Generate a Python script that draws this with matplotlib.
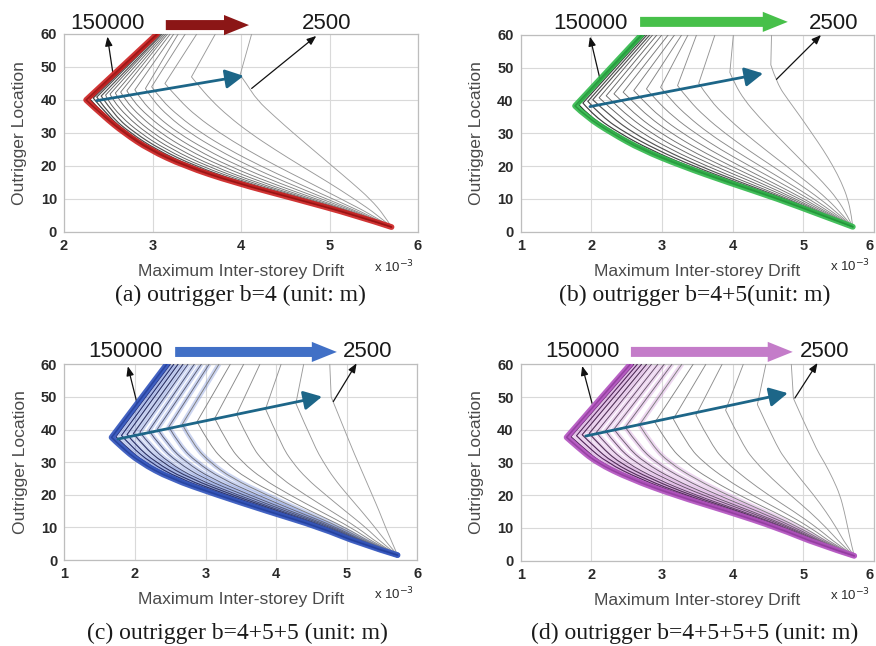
import matplotlib
matplotlib.use('Agg')
import matplotlib.pyplot as plt
from matplotlib.path import Path
from matplotlib.patches import PathPatch

# ---------------- data ----------------
LEVELS = [5, 10, 15, 20, 25, 30, 35, 40, 45]   # outrigger location levels for the lower branch
TOP_Y = 60

# (a) outrigger b=4  -- curve 0 = stiffness 150000 ... last = 2500
A_BOTTOM = (5.70, 1.5)
A_TOP_X = [3.05, 3.06, 3.07, 3.08, 3.10, 3.11, 3.13, 3.15, 3.17, 3.20, 3.24, 3.29, 3.37, 3.50, 3.71, 4.12]
A_KINK_X = [2.25, 2.29, 2.33, 2.37, 2.42, 2.47, 2.52, 2.58, 2.64, 2.71, 2.80, 2.92, 2.99, 3.14, 3.44, 3.99]
A_KINK_Y = [40.0, 40.3, 40.6, 40.9, 41.2, 41.5, 41.8, 42.1, 42.4, 42.8, 43.1, 43.5, 44.0, 45.0, 47.0, 47.6]
A_LOWER = [
    [5.30, 4.62, 3.92, 3.36, 2.96, 2.68, 2.45],
    [5.30, 4.63, 3.93, 3.38, 2.98, 2.70, 2.47],
    [5.31, 4.64, 3.94, 3.40, 3.00, 2.72, 2.50],
    [5.32, 4.66, 3.97, 3.43, 3.04, 2.75, 2.53],
    [5.33, 4.68, 4.01, 3.48, 3.09, 2.80, 2.58],
    [5.34, 4.70, 4.06, 3.54, 3.15, 2.86, 2.64, 2.49],
    [5.35, 4.73, 4.11, 3.61, 3.22, 2.93, 2.71, 2.55],
    [5.36, 4.76, 4.17, 3.68, 3.30, 3.00, 2.78, 2.62],
    [5.37, 4.80, 4.24, 3.77, 3.39, 3.09, 2.86, 2.69],
    [5.38, 4.85, 4.32, 3.86, 3.49, 3.19, 2.95, 2.77],
    [5.40, 4.91, 4.41, 3.97, 3.60, 3.29, 3.05, 2.87],
    [5.42, 4.97, 4.51, 4.09, 3.73, 3.42, 3.18, 3.00],
    [5.45, 5.04, 4.62, 4.22, 3.86, 3.55, 3.30, 3.10],
    [5.49, 5.13, 4.77, 4.40, 4.06, 3.76, 3.50, 3.30],
    [5.55, 5.28, 4.99, 4.68, 4.38, 4.10, 3.86, 3.66, 3.50],
    [5.62, 5.46, 5.25, 5.03, 4.81, 4.59, 4.38, 4.18, 4.06],
]

# (b) outrigger b=4+5
B_BOTTOM = (5.70, 1.5)
B_TOP_X = [2.71, 2.73, 2.76, 2.79, 2.83, 2.87, 2.93, 3.00, 3.09, 3.18, 3.28, 3.37, 3.49, 3.75, 4.01, 4.55]
B_KINK_X = [1.77, 1.82, 1.88, 1.95, 2.02, 2.11, 2.21, 2.32, 2.45, 2.60, 2.78, 2.98, 3.22, 3.52, 3.96, 4.54]
B_KINK_Y = [38.3, 38.7, 39.2, 39.7, 40.2, 40.8, 41.4, 42.0, 42.5, 43.0, 43.5, 44.0, 44.5, 45.2, 48.5, 50.8]
B_LOWER = [
    [5.26, 4.64, 3.94, 3.28, 2.71, 2.29, 1.93],
    [5.27, 4.66, 3.97, 3.32, 2.76, 2.34, 1.98],
    [5.28, 4.68, 4.01, 3.37, 2.83, 2.40, 2.05],
    [5.29, 4.71, 4.06, 3.44, 2.92, 2.49, 2.15],
    [5.30, 4.75, 4.12, 3.53, 3.02, 2.60, 2.28],
    [5.31, 4.79, 4.20, 3.63, 3.13, 2.72, 2.40],
    [5.33, 4.84, 4.29, 3.74, 3.25, 2.85, 2.53, 2.28],
    [5.35, 4.89, 4.38, 3.85, 3.38, 2.98, 2.66, 2.42],
    [5.38, 4.95, 4.47, 3.97, 3.52, 3.13, 2.81, 2.57],
    [5.41, 5.01, 4.56, 4.10, 3.67, 3.29, 2.97, 2.73],
    [5.44, 5.08, 4.67, 4.24, 3.83, 3.47, 3.16, 2.92],
    [5.48, 5.15, 4.78, 4.39, 4.01, 3.66, 3.37, 3.13],
    [5.52, 5.24, 4.91, 4.56, 4.21, 3.89, 3.61, 3.38],
    [5.56, 5.34, 5.06, 4.76, 4.46, 4.17, 3.91, 3.68],
    [5.62, 5.48, 5.28, 5.05, 4.82, 4.59, 4.37, 4.17, 4.03],
    [5.68, 5.63, 5.54, 5.42, 5.28, 5.12, 4.96, 4.79, 4.63],
]

# (c) outrigger b=4+5+5
C_BOTTOM = (5.72, 1.5)
C_TOP_X = [2.45, 2.50, 2.55, 2.61, 2.68, 2.75, 2.84, 2.94, 3.05, 3.19, 3.35, 3.54, 3.77, 4.07, 4.39, 4.76]
C_KINK_X = [1.67, 1.73, 1.81, 1.89, 1.98, 2.07, 2.20, 2.32, 2.48, 2.67, 2.88, 3.13, 3.44, 3.85, 4.28, 4.78]
C_KINK_Y = [37.6, 37.8, 38.2, 38.5, 38.8, 39.2, 39.7, 40.2, 40.8, 41.6, 42.4, 43.4, 44.7, 46.3, 48.0, 50.0]
C_LOWER = [
    [5.19, 4.62, 3.87, 3.16, 2.50, 2.07, 1.79],
    [5.20, 4.64, 3.90, 3.20, 2.56, 2.13, 1.86],
    [5.21, 4.66, 3.94, 3.26, 2.62, 2.21, 1.94],
    [5.22, 4.69, 3.98, 3.31, 2.69, 2.29, 2.02],
    [5.24, 4.71, 4.03, 3.38, 2.78, 2.38, 2.12],
    [5.25, 4.74, 4.08, 3.45, 2.86, 2.47, 2.22],
    [5.27, 4.78, 4.14, 3.53, 2.97, 2.60, 2.35],
    [5.29, 4.82, 4.20, 3.62, 3.08, 2.72, 2.48],
    [5.31, 4.86, 4.28, 3.73, 3.22, 2.87, 2.64],
    [5.34, 4.92, 4.38, 3.86, 3.38, 3.06, 2.84],
    [5.37, 4.98, 4.49, 4.02, 3.58, 3.28, 3.07],
    [5.41, 5.06, 4.62, 4.19, 3.80, 3.52, 3.33],
    [5.45, 5.15, 4.78, 4.41, 4.07, 3.83, 3.65],
    [5.51, 5.27, 4.98, 4.70, 4.43, 4.23, 4.08],
    [5.58, 5.40, 5.21, 5.01, 4.82, 4.67, 4.54],
    [5.65, 5.55, 5.46, 5.36, 5.26, 5.16, 5.06],
]

# (d) outrigger b=4+5+5+5
D_BOTTOM = (5.72, 1.5)
D_TOP_X = [2.55, 2.60, 2.65, 2.71, 2.78, 2.85, 2.94, 3.03, 3.14, 3.28, 3.44, 3.62, 3.85, 4.15, 4.47, 4.83]
D_KINK_X = [1.65, 1.71, 1.79, 1.87, 1.97, 2.07, 2.20, 2.32, 2.48, 2.68, 2.90, 3.16, 3.48, 3.90, 4.35, 4.86]
D_KINK_Y = [37.7, 37.9, 38.2, 38.5, 38.9, 39.2, 39.7, 40.2, 40.8, 41.5, 42.3, 43.3, 44.5, 46.0, 47.7, 49.6]
D_LOWER = [
    [5.21, 4.64, 3.94, 3.18, 2.55, 2.07, 1.79],
    [5.22, 4.66, 3.97, 3.23, 2.61, 2.13, 1.86],
    [5.23, 4.68, 4.01, 3.29, 2.68, 2.22, 1.94],
    [5.24, 4.71, 4.05, 3.34, 2.75, 2.30, 2.03],
    [5.26, 4.74, 4.10, 3.41, 2.84, 2.39, 2.13],
    [5.27, 4.77, 4.15, 3.48, 2.92, 2.49, 2.23],
    [5.29, 4.81, 4.22, 3.58, 3.04, 2.62, 2.36],
    [5.31, 4.85, 4.28, 3.67, 3.15, 2.75, 2.50],
    [5.33, 4.90, 4.37, 3.79, 3.30, 2.91, 2.67],
    [5.36, 4.96, 4.46, 3.93, 3.47, 3.10, 2.87],
    [5.39, 5.03, 4.58, 4.09, 3.67, 3.33, 3.10],
    [5.43, 5.11, 4.71, 4.28, 3.90, 3.59, 3.37],
    [5.48, 5.20, 4.87, 4.51, 4.19, 3.91, 3.71],
    [5.54, 5.33, 5.09, 4.82, 4.56, 4.33, 4.15],
    [5.60, 5.47, 5.32, 5.15, 4.96, 4.78, 4.62],
    [5.68, 5.63, 5.58, 5.52, 5.42, 5.30, 5.16],
]

STIFF_LABEL = "150000"
FLEX_LABEL = "2500"
CAPTIONS = ["(a) outrigger b=4 (unit: m)", "(b) outrigger b=4+5(unit: m)",
            "(c) outrigger b=4+5+5 (unit: m)", "(d) outrigger b=4+5+5+5 (unit: m)"]
X_LABEL = "Maximum Inter-storey Drift"
Y_LABEL = "Outrigger Location"
Y_TICKS = [0, 10, 20, 30, 40, 50, 60]

# ---------------- layout / style ----------------
W, H = 876, 646
fig = plt.figure(figsize=(W / 100, H / 100), dpi=100)
fig.patch.set_facecolor('white')

SANS = ['Liberation Sans', 'DejaVu Sans']
SERIF = ['Liberation Serif', 'DejaVu Serif']

panels = [
    dict(rect=[0.0731, 0.6409, 0.4041, 0.3065], xlim=(2, 6), xticks=[2, 3, 4, 5, 6],
         bottom=A_BOTTOM, top=A_TOP_X, kx=A_KINK_X, ky=A_KINK_Y, lower=A_LOWER,
         main='#cc1f1f', core='#8a0f0f', band=None, big='#8b1616',
         big_x=(3.15, 4.09), big_y=62.7, lab_y=63.3, s_lab_x=2.49, f_lab_x=4.97,
         blk1=((2.55, 48.5), (2.49, 59.2)), blk2=((4.12, 43.5), (4.85, 59.4)),
         teal=((2.37, 39.8), (4.03, 47.3)), cap=(0.275, 0.543)),
    dict(rect=[0.5944, 0.6413, 0.4033, 0.3050], xlim=(1, 6), xticks=[1, 2, 3, 4, 5, 6],
         bottom=B_BOTTOM, top=B_TOP_X, kx=B_KINK_X, ky=B_KINK_Y, lower=B_LOWER,
         main='#2fb84a', core='#1f8f35', band=None, big='#47c04a',
         big_x=(2.69, 4.78), big_y=63.9, lab_y=63.3, s_lab_x=1.99, f_lab_x=5.43,
         blk1=((2.12, 46.7), (1.98, 59.4)), blk2=((4.62, 46.4), (5.25, 59.9)),
         teal=((1.98, 38.1), (4.43, 48.2)), cap=(0.793, 0.543)),
    dict(rect=[0.0734, 0.1331, 0.4030, 0.3029], xlim=(1, 6), xticks=[1, 2, 3, 4, 5, 6],
         bottom=C_BOTTOM, top=C_TOP_X, kx=C_KINK_X, ky=C_KINK_Y, lower=C_LOWER,
         main='#3456bd', core='#1f3a94', band='#4a6ad0', big='#4170c6',
         big_x=(2.57, 4.86), big_y=63.8, lab_y=63.8, s_lab_x=1.87, f_lab_x=5.30,
         blk1=((2.03, 48.1), (1.90, 59.4)), blk2=((4.81, 48.6), (5.14, 60.3)),
         teal=((1.76, 37.1), (4.65, 50.1)), cap=(0.271, 0.020)),
    dict(rect=[0.5944, 0.1320, 0.4033, 0.3040], xlim=(1, 6), xticks=[1, 2, 3, 4, 5, 6],
         bottom=D_BOTTOM, top=D_TOP_X, kx=D_KINK_X, ky=D_KINK_Y, lower=D_LOWER,
         main='#b354c0', core='#8a3596', band='#c070cc', big='#c47cc9',
         big_x=(2.56, 4.85), big_y=63.8, lab_y=63.8, s_lab_x=1.87, f_lab_x=5.30,
         blk1=((2.01, 48.1), (1.87, 59.5)), blk2=((4.88, 49.7), (5.20, 60.4)),
         teal=((1.92, 38.1), (4.78, 51.2)), cap=(0.793, 0.020)),
]

TEAL = '#1d6688'


def curve_path(pts):
    """Smooth lower branch (quadratic segments through read points), sharp kink, straight top."""
    lower = pts[:-1]          # bottom + level points + kink
    top = pts[-1]
    verts = [lower[0]]
    codes = [Path.MOVETO]
    for i in range(1, len(lower) - 1):
        p, q = lower[i], lower[i + 1]
        end = q if i == len(lower) - 2 else ((p[0] + q[0]) / 2, (p[1] + q[1]) / 2)
        verts += [p, end]
        codes += [Path.CURVE3, Path.CURVE3]
    verts.append(top)
    codes.append(Path.LINETO)
    return Path(verts, codes)


def draw(ax, pts, **kw):
    ax.add_patch(PathPatch(curve_path(pts), facecolor='none', capstyle='round',
                           joinstyle='round', **kw))


for k, p in enumerate(panels):
    ax = fig.add_axes(p['rect'])
    ax.set_xlim(*p['xlim'])
    ax.set_ylim(0, 60)
    ax.set_xticks(p['xticks'])
    ax.set_yticks(Y_TICKS)
    ax.grid(True, color='#d9d9d9', linewidth=0.8)
    ax.set_axisbelow(True)
    for s in ax.spines.values():
        s.set_color('#bdbdbd')
        s.set_linewidth(0.9)
    ax.tick_params(length=0, pad=5, labelsize=10.5, labelcolor='#2a2a2a')
    for lab in ax.get_xticklabels() + ax.get_yticklabels():
        lab.set_fontweight('bold')
        lab.set_family(SANS)
    if p['rect'][0] > 0.5:
        ax.get_xticklabels()[-1].set_horizontalalignment('right')

    n = len(p['top'])
    bx, by = p['bottom']
    curves = []
    for i in range(n):
        row = p['lower'][i]
        pts = [(bx, by)] + list(zip(row, LEVELS[:len(row)])) + \
              [(p['kx'][i], p['ky'][i]), (p['top'][i], TOP_Y)]
        curves.append(pts)

    # coloured band (panels c, d)
    if p['band'] is not None:
        for i in range(0, 10):
            draw(ax, curves[i], edgecolor=p['band'], lw=3.4, alpha=0.28, zorder=2)

    # thin family lines, flexible first
    for i in range(n - 1, 0, -1):
        t = (i - 1) / (n - 2)
        g = 0.12 + 0.50 * t ** 0.55
        if p['band'] is not None and i < 9:
            base = {2: (0.14, 0.18, 0.45), 3: (0.34, 0.14, 0.38)}[k]
            f = min(1.0, t * 1.6)
            col = tuple(b * (1 - f) + g * f for b in base)
        else:
            col = (g, g, g)
        draw(ax, curves[i], edgecolor=col, lw=0.85 if i < 5 else 0.65, zorder=3)

    # stiffest curve
    draw(ax, curves[0], edgecolor=p['main'], lw=4.2, alpha=0.9, zorder=4)
    draw(ax, curves[0], edgecolor=p['core'], lw=1.2, alpha=0.7, zorder=5)

    # annotations
    ax.text(p['s_lab_x'], p['lab_y'], STIFF_LABEL, ha='center', va='center',
            fontsize=16, family=SANS, color='#1a1a1a', clip_on=False)
    ax.text(p['f_lab_x'], p['lab_y'], FLEX_LABEL, ha='center', va='center',
            fontsize=16, family=SANS, color='#1a1a1a', clip_on=False)
    ax.annotate('', xy=(p['big_x'][1], p['big_y']), xytext=(p['big_x'][0], p['big_y']),
                annotation_clip=False,
                arrowprops=dict(arrowstyle='simple,head_length=1.8,head_width=1.45,tail_width=0.72',
                                mutation_scale=10, color=p['big'], lw=0, shrinkA=0, shrinkB=0))
    for (s0, s1) in (p['blk1'], p['blk2']):
        ax.annotate('', xy=s1, xytext=s0, annotation_clip=False,
                    arrowprops=dict(arrowstyle='-|>,head_length=0.55,head_width=0.22',
                                    color='#111111', lw=0.9, shrinkA=0, shrinkB=0))
    t0, t1 = p['teal']
    ax.annotate('', xy=t1, xytext=t0, annotation_clip=False,
                arrowprops=dict(arrowstyle='-|>,head_length=1.1,head_width=0.58',
                                color=TEAL, lw=2.0, shrinkA=0, shrinkB=0), zorder=6)

    # axis labels
    ax.text(0.5, -0.20, X_LABEL, transform=ax.transAxes, ha='center', va='center',
            fontsize=12.6, family=SANS, color='#4a4a4a')
    ax.text(-0.125, 0.5, Y_LABEL, transform=ax.transAxes, ha='center', va='center',
            rotation=90, fontsize=12.6, family=SANS, color='#4a4a4a')
    ax.text(0.99, -0.175, r'x 10$^{-3}$', transform=ax.transAxes, ha='right', va='center',
            fontsize=9.5, family=SANS, color='#2a2a2a')

    fig.text(p['cap'][0], p['cap'][1], CAPTIONS[k], ha='center', va='center',
             fontsize=17, family=SERIF, color='#1a1a1a')

fig.savefig('out.png', dpi=100, facecolor='white')
